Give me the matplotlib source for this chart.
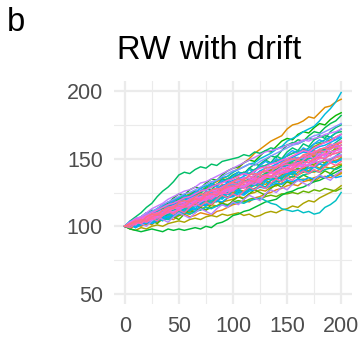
import numpy as np
import matplotlib
matplotlib.use("Agg")
from matplotlib import pyplot as plt
from matplotlib.ticker import MultipleLocator

plt.rcParams['font.family'] = ['Liberation Sans', 'DejaVu Sans']

# random walks with drift, values every 5 steps (t = 0..200)
step = 5
walks = [
    [100, 101, 103, 102, 105, 107, 106, 109, 111, 112, 114, 116, 115, 118, 120, 119, 122, 124, 123, 126, 128,
     129, 131, 130, 133, 135, 134, 137, 138, 140, 141, 140, 142, 144, 143, 145, 146, 145, 147, 149, 150],
    [100, 102, 104, 103, 107, 109, 110, 112, 115, 116, 118, 119, 121, 120, 123, 125, 126, 128, 130, 131, 133,
     134, 136, 135, 138, 140, 141, 143, 142, 145, 147, 149, 148, 151, 153, 152, 155, 157, 158, 160, 162],
    [100, 103, 101, 106, 104, 109, 112, 110, 115, 113, 118, 121, 119, 117, 122, 126, 124, 128, 131, 129, 133,
     136, 134, 132, 137, 141, 139, 143, 146, 144, 148, 152, 150, 147, 153, 156, 154, 158, 161, 159, 163],
    [100, 99, 101, 100, 102, 104, 103, 105, 106, 105, 108, 109, 107, 108, 110, 109, 108, 111, 112, 114, 116,
     117, 119, 118, 121, 122, 124, 125, 127, 128, 130, 131, 130, 133, 134, 133, 136, 137, 136, 138, 140],
    [100, 102, 103, 106, 108, 109, 112, 114, 115, 118, 120, 121, 123, 125, 126, 129, 131, 133, 135, 137, 140,
     143, 147, 150, 154, 157, 160, 163, 165, 167, 172, 175, 176, 178, 181, 180, 184, 188, 189, 192, 194],
    [100, 101, 100, 103, 104, 106, 105, 108, 109, 111, 112, 114, 113, 116, 117, 119, 118, 121, 122, 124, 125,
     127, 126, 129, 130, 132, 131, 134, 135, 136, 138, 139, 138, 140, 141, 140, 142, 144, 143, 145, 146],
    [100, 98, 102, 105, 103, 101, 105, 108, 106, 110, 112, 109, 113, 116, 114, 118, 121, 119, 117, 121, 124,
     127, 125, 129, 127, 131, 134, 132, 130, 135, 138, 136, 140, 143, 141, 145, 143, 147, 150, 148, 151],
    [100, 99, 101, 102, 101, 104, 105, 107, 106, 108, 110, 111, 110, 113, 112, 115, 116, 115, 118, 119, 120,
     122, 121, 124, 125, 127, 126, 129, 130, 132, 133, 132, 134, 135, 134, 136, 137, 136, 138, 137, 139],
    [100, 102, 103, 105, 107, 106, 109, 111, 113, 115, 117, 118, 120, 119, 122, 124, 123, 126, 128, 129, 131,
     133, 132, 135, 137, 136, 139, 141, 142, 144, 146, 147, 146, 149, 150, 152, 151, 154, 155, 157, 158],
    [100, 98, 97, 99, 98, 100, 101, 100, 102, 103, 104, 103, 105, 106, 105, 107, 108, 107, 109, 108, 109,
     110, 108, 109, 107, 108, 110, 111, 110, 112, 113, 115, 114, 117, 119, 118, 121, 123, 125, 127, 130],
    [100, 102, 106, 104, 108, 111, 109, 107, 112, 115, 113, 117, 120, 118, 123, 121, 125, 128, 126, 130, 133,
     131, 129, 134, 137, 135, 139, 142, 140, 138, 143, 146, 144, 148, 151, 149, 153, 156, 154, 158, 160],
    [100, 102, 105, 106, 109, 110, 112, 115, 116, 119, 121, 122, 124, 126, 125, 128, 130, 131, 133, 135, 136,
     138, 140, 139, 142, 144, 145, 147, 149, 150, 152, 154, 155, 157, 156, 159, 161, 162, 164, 166, 168],
    [100, 101, 103, 104, 103, 106, 108, 109, 111, 112, 114, 115, 117, 116, 119, 120, 122, 121, 124, 126, 127,
     128, 130, 129, 132, 133, 135, 136, 135, 138, 140, 141, 143, 142, 145, 146, 148, 147, 149, 151, 152],
    [100, 101, 100, 102, 103, 102, 104, 106, 105, 107, 108, 110, 109, 111, 113, 112, 114, 115, 117, 116, 118,
     119, 118, 120, 121, 120, 122, 123, 122, 124, 124, 125, 124, 126, 125, 127, 126, 128, 127, 126, 128],
    [100, 101, 99, 103, 106, 104, 102, 106, 109, 107, 105, 109, 112, 110, 114, 112, 116, 119, 117, 115, 119,
     122, 120, 124, 127, 125, 123, 128, 131, 129, 133, 131, 135, 138, 136, 134, 138, 141, 139, 143, 145],
    [100, 103, 104, 107, 110, 109, 113, 116, 117, 121, 124, 123, 127, 129, 128, 132, 135, 134, 138, 141, 143,
     144, 147, 149, 148, 152, 156, 155, 159, 163, 165, 164, 168, 170, 169, 173, 176, 175, 179, 182, 184],
    [100, 98, 97, 96, 97, 98, 97, 96, 98, 97, 98, 97, 98, 99, 98, 100, 99, 102, 103, 105, 108,
     109, 111, 112, 114, 116, 118, 119, 120, 123, 125, 126, 128, 129, 131, 133, 134, 136, 138, 140, 142],
    [100, 102, 101, 105, 107, 106, 110, 113, 114, 117, 120, 121, 123, 122, 126, 128, 127, 131, 134, 135, 138,
     140, 139, 143, 146, 145, 149, 152, 151, 156, 160, 161, 164, 163, 167, 170, 169, 173, 176, 178, 182],
    [100, 104, 107, 110, 114, 117, 122, 126, 129, 133, 138, 140, 139, 142, 144, 143, 146, 145, 148, 149, 150,
     151, 153, 152, 155, 154, 156, 158, 157, 159, 160, 162, 161, 163, 165, 164, 166, 167, 166, 169, 170],
    [100, 103, 106, 104, 109, 112, 110, 115, 118, 116, 121, 119, 123, 126, 124, 129, 132, 130, 135, 133, 137,
     140, 138, 143, 141, 146, 149, 147, 152, 150, 155, 158, 156, 161, 159, 164, 167, 165, 170, 173, 175],
    [100, 101, 103, 102, 105, 107, 106, 109, 110, 112, 113, 115, 117, 118, 120, 121, 123, 125, 126, 128, 130,
     131, 133, 135, 134, 137, 139, 140, 142, 144, 146, 148, 150, 149, 152, 154, 156, 157, 159, 162, 165],
    [100, 102, 101, 103, 104, 103, 106, 107, 109, 110, 111, 113, 112, 115, 116, 118, 117, 120, 121, 122, 123,
     125, 124, 127, 128, 130, 129, 132, 133, 134, 135, 137, 136, 138, 139, 141, 140, 142, 143, 142, 144],
    [100, 102, 104, 106, 105, 109, 111, 112, 115, 117, 119, 121, 120, 123, 126, 127, 129, 131, 133, 135, 137,
     138, 140, 139, 142, 144, 145, 147, 148, 150, 152, 154, 156, 155, 158, 161, 162, 164, 166, 169, 172],
    [100, 99, 103, 101, 105, 108, 106, 104, 108, 111, 109, 113, 111, 115, 118, 116, 120, 118, 122, 125, 123,
     127, 125, 130, 133, 131, 129, 134, 137, 135, 140, 138, 142, 140, 145, 148, 146, 150, 148, 152, 155],
    [100, 101, 100, 102, 104, 103, 105, 106, 105, 107, 109, 110, 109, 111, 112, 114, 113, 115, 116, 115, 117,
     118, 117, 119, 120, 121, 119, 117, 116, 113, 112, 111, 112, 110, 111, 109, 110, 114, 116, 119, 125],
    [100, 101, 103, 105, 104, 107, 109, 110, 112, 114, 116, 117, 119, 118, 121, 122, 124, 123, 126, 128, 129,
     131, 133, 132, 135, 137, 138, 140, 141, 143, 145, 146, 148, 147, 150, 151, 153, 152, 155, 156, 158],
    [100, 102, 104, 107, 108, 111, 113, 115, 116, 119, 121, 123, 122, 125, 128, 130, 131, 134, 136, 137, 140,
     142, 144, 146, 147, 150, 152, 154, 157, 159, 163, 165, 167, 170, 172, 174, 178, 183, 187, 192, 199],
    [100, 102, 100, 104, 102, 106, 104, 108, 106, 110, 113, 111, 115, 113, 117, 115, 119, 122, 120, 124, 122,
     126, 124, 128, 131, 129, 133, 131, 135, 133, 137, 140, 138, 142, 140, 144, 142, 146, 149, 147, 150],
    [100, 102, 101, 104, 105, 104, 107, 109, 110, 111, 113, 114, 116, 115, 118, 119, 121, 120, 123, 124, 126,
     127, 129, 128, 131, 132, 134, 135, 134, 137, 139, 140, 142, 141, 143, 144, 146, 145, 147, 148, 149],
    [100, 102, 104, 103, 106, 108, 110, 111, 114, 116, 118, 119, 121, 123, 122, 125, 127, 128, 130, 132, 134,
     135, 137, 139, 138, 141, 143, 144, 146, 148, 150, 151, 153, 155, 154, 157, 159, 160, 162, 164, 166],
    [100, 101, 99, 101, 103, 102, 104, 106, 107, 108, 110, 111, 113, 112, 115, 116, 117, 119, 118, 121, 122,
     124, 123, 126, 127, 129, 128, 130, 132, 131, 134, 133, 135, 134, 136, 135, 137, 136, 138, 136, 137],
    [100, 104, 102, 107, 110, 108, 113, 111, 116, 119, 117, 122, 120, 125, 128, 126, 131, 129, 134, 132, 137,
     140, 138, 142, 140, 145, 148, 146, 150, 148, 153, 156, 154, 158, 156, 161, 164, 162, 166, 164, 168],
    [100, 102, 103, 105, 106, 108, 110, 111, 113, 115, 116, 118, 120, 119, 122, 124, 125, 127, 128, 130, 131,
     133, 135, 137, 136, 139, 141, 143, 144, 146, 148, 149, 151, 150, 152, 154, 153, 156, 157, 159, 160],
    [100, 103, 105, 107, 109, 111, 113, 116, 118, 120, 122, 124, 125, 127, 129, 131, 133, 134, 137, 139, 141,
     142, 144, 146, 145, 148, 150, 152, 154, 156, 158, 160, 161, 163, 165, 167, 168, 170, 172, 174, 176],
    [100, 101, 103, 105, 104, 107, 108, 110, 111, 113, 114, 116, 117, 119, 118, 121, 122, 124, 125, 127, 128,
     130, 129, 132, 134, 135, 137, 136, 139, 140, 142, 143, 145, 144, 146, 148, 147, 149, 150, 152, 153],
    [100, 101, 104, 102, 100, 104, 107, 105, 103, 107, 110, 108, 106, 110, 113, 111, 109, 113, 116, 114, 118,
     116, 120, 123, 121, 119, 124, 127, 125, 129, 127, 131, 134, 132, 130, 135, 138, 136, 134, 138, 141],
    [100, 103, 106, 107, 110, 113, 115, 117, 120, 122, 124, 126, 127, 129, 132, 133, 135, 137, 139, 141, 143,
     145, 147, 149, 151, 153, 155, 156, 157, 158, 160, 161, 162, 164, 163, 165, 166, 168, 169, 170, 172],
    [100, 101, 102, 104, 103, 105, 107, 108, 110, 111, 112, 114, 116, 115, 118, 120, 121, 123, 124, 126, 127,
     129, 130, 132, 131, 134, 136, 137, 139, 140, 141, 143, 144, 146, 145, 148, 150, 151, 153, 154, 156],
    [100, 102, 104, 105, 107, 108, 110, 112, 113, 115, 117, 118, 120, 122, 121, 124, 126, 127, 129, 131, 133,
     134, 136, 135, 138, 140, 141, 143, 145, 146, 148, 150, 149, 152, 154, 155, 157, 158, 160, 161, 163],
    [100, 103, 101, 105, 108, 106, 110, 108, 112, 115, 113, 117, 115, 119, 122, 120, 124, 122, 126, 129, 127,
     131, 129, 133, 136, 134, 138, 136, 141, 144, 142, 146, 144, 149, 152, 150, 154, 152, 157, 160, 158],
    [100, 101, 103, 104, 106, 107, 109, 110, 112, 113, 115, 116, 118, 117, 120, 122, 123, 125, 126, 128, 129,
     131, 132, 134, 136, 135, 138, 139, 141, 142, 144, 145, 147, 148, 147, 150, 152, 153, 155, 156, 158],
    [100, 102, 105, 106, 108, 110, 112, 114, 116, 117, 119, 121, 122, 124, 126, 127, 129, 131, 132, 134, 135,
     137, 139, 138, 141, 143, 144, 146, 147, 149, 150, 152, 154, 156, 155, 158, 160, 162, 163, 166, 168],
    [100, 102, 105, 103, 107, 105, 109, 112, 110, 114, 112, 116, 119, 117, 121, 119, 123, 126, 124, 128, 126,
     130, 133, 131, 135, 133, 137, 140, 138, 142, 140, 144, 147, 145, 149, 147, 151, 154, 152, 156, 157],
    [100, 101, 103, 102, 105, 107, 106, 109, 111, 110, 113, 115, 114, 118, 119, 121, 120, 123, 125, 124, 127,
     129, 128, 131, 133, 132, 136, 137, 136, 139, 140, 142, 141, 144, 145, 144, 148, 149, 148, 151, 152],
    [100, 102, 103, 105, 104, 109, 110, 109, 114, 115, 117, 116, 120, 121, 120, 125, 126, 125, 129, 131, 132,
     131, 135, 137, 136, 140, 141, 140, 144, 145, 146, 145, 150, 152, 151, 155, 156, 155, 159, 158, 160],
    [100, 99, 102, 105, 103, 106, 104, 108, 111, 109, 112, 110, 114, 117, 115, 118, 116, 120, 123, 121, 124,
     122, 126, 129, 127, 130, 128, 132, 135, 133, 136, 134, 138, 141, 139, 142, 140, 144, 147, 145, 148],
    [100, 101, 103, 105, 104, 107, 109, 108, 112, 114, 115, 114, 118, 120, 119, 123, 124, 123, 127, 129, 130,
     129, 133, 134, 133, 137, 138, 137, 140, 142, 143, 142, 146, 148, 147, 150, 151, 150, 153, 154, 155],
    [100, 102, 104, 103, 107, 109, 108, 112, 114, 113, 118, 119, 118, 122, 124, 123, 127, 128, 127, 131, 133,
     135, 134, 138, 139, 138, 143, 144, 143, 147, 149, 150, 149, 153, 154, 153, 157, 158, 157, 161, 162],
]

x_ticks = [0, 50, 100, 150, 200]
y_ticks = [50, 100, 150, 200]


def hue_color(h, c=100.0, l=65.0):
    # ggplot2 style hcl() -> sRGB
    hr = np.deg2rad(h)
    u, v = c * np.cos(hr), c * np.sin(hr)
    Xn, Yn, Zn = 95.047, 100.0, 108.883
    un = 4 * Xn / (Xn + 15 * Yn + 3 * Zn)
    vn = 9 * Yn / (Xn + 15 * Yn + 3 * Zn)
    Y = Yn * ((l + 16) / 116) ** 3
    up = u / (13 * l) + un
    vp = v / (13 * l) + vn
    X = Y * 9 * up / (4 * vp)
    Z = Y * (12 - 3 * up - 20 * vp) / (4 * vp)
    xyz = np.array([X, Y, Z]) / 100
    m = np.array([[3.2406, -1.5372, -0.4986],
                  [-0.9689, 1.8758, 0.0415],
                  [0.0557, -0.2040, 1.0570]])
    rgb = m @ xyz
    rgb = np.where(rgb <= 0.0031308, 12.92 * rgb, 1.055 * np.clip(rgb, 0, None) ** (1 / 2.4) - 0.055)
    return np.clip(rgb, 0, 1)


n = len(walks)
hues = np.linspace(15, 375, n + 1)[:-1]

fig = plt.figure(figsize=(3.62, 3.37), dpi=100)
ax = fig.add_axes([114 / 362, 1 - 304 / 337, 238 / 362, 223 / 337])

for i, w in enumerate(walks):
    t = np.arange(len(w)) * step
    ax.plot(t, w, color=hue_color(hues[i]), lw=1.05)

ax.set_xlim(-10, 210)
ax.set_ylim(42.5, 207.5)
ax.set_xticks(x_ticks)
ax.set_yticks(y_ticks)
ax.xaxis.set_minor_locator(MultipleLocator(25))
ax.yaxis.set_minor_locator(MultipleLocator(25))
ax.grid(which='major', color='#EBEBEB', lw=1.6)
ax.grid(which='minor', color='#EBEBEB', lw=0.8)
ax.set_axisbelow(True)
for s in ax.spines.values():
    s.set_visible(False)
ax.tick_params(which='both', length=0, labelsize=15.5, labelcolor='#4D4D4D')
ax.tick_params(axis='x', pad=9)
ax.tick_params(axis='y', pad=8)

fig.text(117 / 362, 1 - 59.3 / 337, 'RW with drift', fontsize=23.5, ha='left', va='baseline')
fig.text(7 / 362, 1 - 30.7 / 337, 'b', fontsize=23.5, ha='left', va='baseline')

fig.savefig('out.png', dpi=100)
